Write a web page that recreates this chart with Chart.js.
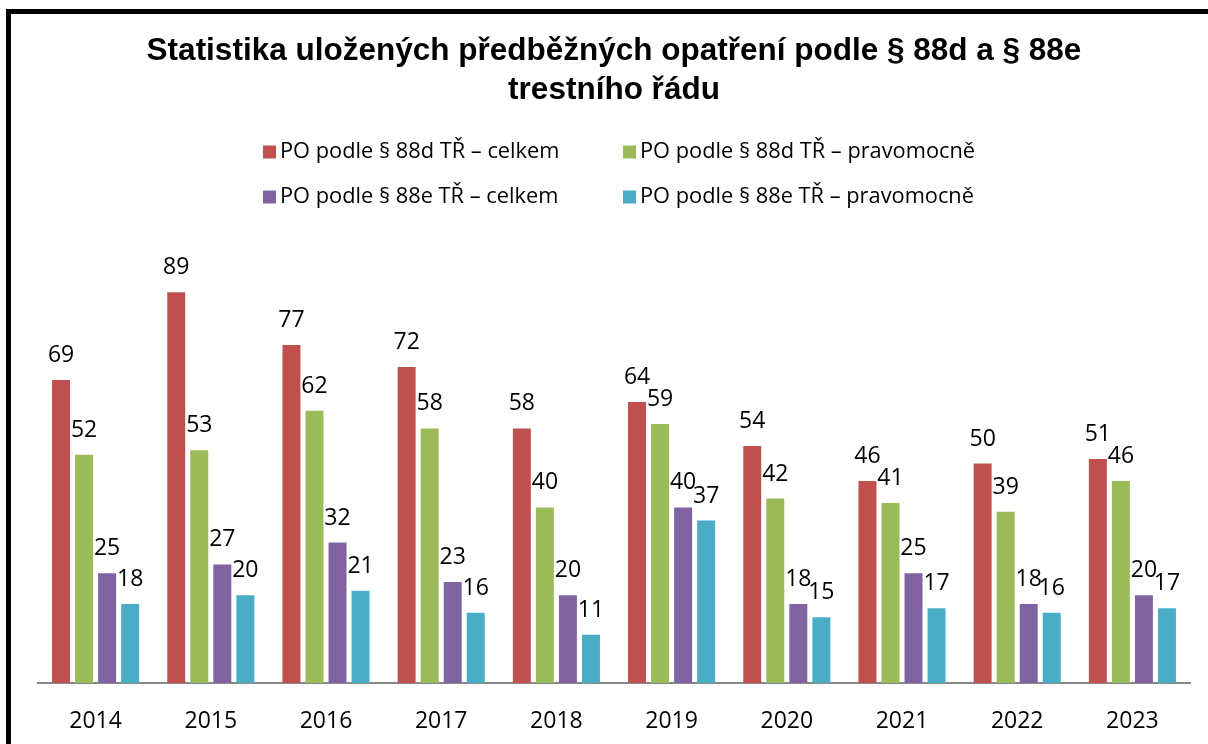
<!DOCTYPE html>
<html lang="cs">
<head>
  <meta charset="UTF-8" />
  <title>Statistika uložených předběžných opatření</title>
  <script src="https://cdn.jsdelivr.net/npm/chart.js"></script>
  <style>
    html, body {
      margin: 0;
      background: white;
      overflow: hidden;
    }
    .wrap {
      position: relative;
      width: 1208px;
      height: 744px;
    }
    .frame {
      position: absolute;
      left: 6px;
      top: 9px;
      width: 1300px;
      height: 900px;
      border-left: 5px solid #000;
      border-top: 5px solid #000;
      pointer-events: none;
    }
  </style>
</head>
<body>
  <div class="wrap">
    <canvas id="chart" width="1208" height="744"></canvas>
    <div class="frame"></div>
  </div>

  <script>
    const years = ['2014', '2015', '2016', '2017', '2018', '2019', '2020', '2021', '2022', '2023'];
    const seriesNames = [
      'PO podle § 88d TŘ – celkem',
      'PO podle § 88d TŘ – pravomocně',
      'PO podle § 88e TŘ – celkem',
      'PO podle § 88e TŘ – pravomocně'
    ];
    const d88Total = [69, 89, 77, 72, 58, 64, 54, 46, 50, 51];
    const d88Final = [52, 53, 62, 58, 40, 59, 42, 41, 39, 46];
    const e88Total = [25, 27, 32, 23, 20, 40, 18, 25, 18, 20];
    const e88Final = [18, 20, 21, 16, 11, 37, 15, 17, 16, 17];
    const titleLines = ['Statistika uložených předběžných opatření podle § 88d a § 88e', 'trestního řádu'];

    const colors = ['#C0504D', '#9BBB59', '#8064A2', '#4BACC6'];
    const labelFont = '23px "Open Sans", sans-serif';

    // title, 2-column legend and value labels
    const decorPlugin = {
      id: 'decor',
      afterDatasetsDraw(chart) {
        const ctx = chart.ctx;
        ctx.save();
        ctx.fillStyle = '#000';
        ctx.font = labelFont;
        ctx.textAlign = 'center';
        ctx.textBaseline = 'alphabetic';
        chart.data.datasets.forEach((ds, i) => {
          chart.getDatasetMeta(i).data.forEach((bar, j) => {
            ctx.fillText(ds.data[j], bar.x, bar.y - 18);
          });
        });
        ctx.restore();
      },
      afterDraw(chart) {
        const ctx = chart.ctx;
        ctx.save();
        ctx.fillStyle = '#000';
        ctx.textAlign = 'center';
        ctx.textBaseline = 'alphabetic';
        ctx.font = 'bold 31.5px "Liberation Sans", Arial, sans-serif';
        ctx.fillText(titleLines[0], 614, 60);
        ctx.fillText(titleLines[1], 614, 99);

        const colX = [263, 623];
        const rowY = [152, 197];
        ctx.font = '21.8px "Open Sans", sans-serif';
        ctx.textAlign = 'left';
        ctx.textBaseline = 'middle';
        chart.data.datasets.forEach((ds, i) => {
          const x = colX[i % 2];
          const y = rowY[Math.floor(i / 2)];
          ctx.fillStyle = ds.backgroundColor;
          ctx.fillRect(x, y - 6.5, 13, 13);
          ctx.fillStyle = '#000';
          ctx.fillText(ds.label, x + 17, y);
        });
        ctx.restore();
      }
    };

    const ctx = document.getElementById('chart').getContext('2d');
    new Chart(ctx, {
      type: 'bar',
      data: {
        labels: years,
        datasets: [
          { label: seriesNames[0], data: d88Total, backgroundColor: colors[0] },
          { label: seriesNames[1], data: d88Final, backgroundColor: colors[1] },
          { label: seriesNames[2], data: e88Total, backgroundColor: colors[2] },
          { label: seriesNames[3], data: e88Final, backgroundColor: colors[3] }
        ]
      },
      options: {
        responsive: false,
        animation: false,
        layout: { padding: { top: 244, left: 38, right: 18, bottom: 0 } },
        datasets: {
          bar: { categoryPercentage: 0.8, barPercentage: 0.78 }
        },
        scales: {
          x: {
            grid: { display: false },
            border: { display: true, color: '#898989', width: 2 },
            ticks: {
              color: '#000',
              font: { family: '"Open Sans", sans-serif', size: 23 },
              padding: 17
            },
            afterFit(scale) { scale.height = 61; }
          },
          y: {
            display: false,
            min: 0,
            max: 100
          }
        },
        plugins: {
          legend: { display: false },
          title: { display: false },
          tooltip: { enabled: false }
        }
      },
      plugins: [decorPlugin]
    });
  </script>
</body>
</html>
